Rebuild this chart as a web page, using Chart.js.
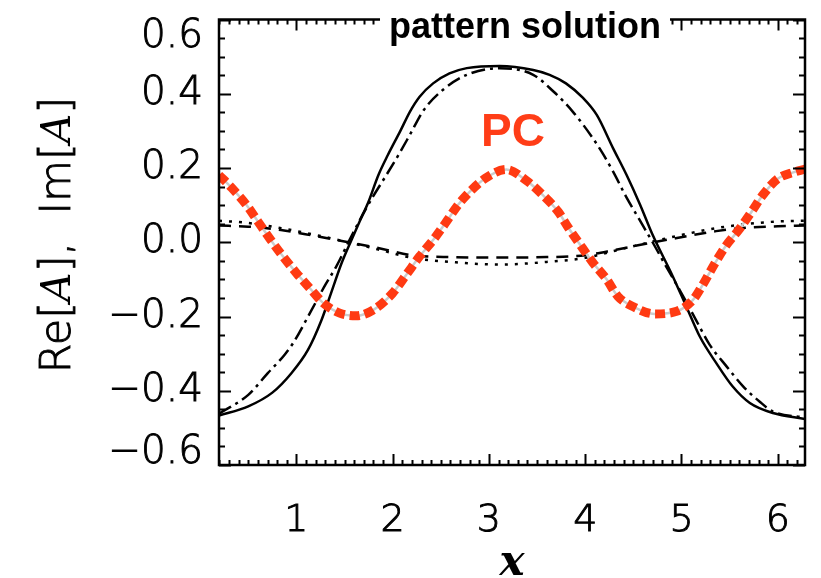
<!DOCTYPE html>
<html><head><meta charset="utf-8">
<script src="https://cdn.jsdelivr.net/npm/chart.js@4.4.1/dist/chart.umd.min.js"></script>
<style>html,body{margin:0;padding:0;background:#fff;overflow:hidden}#wrap{width:821px;height:578px}</style>
</head><body><div id="wrap"><canvas id="c" width="821" height="578"></canvas></div>
<script>
// ---- data ----
const xMin = 0.196, xMax = 6.283;
const yMin = -0.6, yMax = 0.6;
const xTickValues = [1, 2, 3, 4, 5, 6];
const yTickValues = [-0.6, -0.4, -0.2, 0.0, 0.2, 0.4, 0.6];
const titleText = 'pattern solution';
const pcLabel = 'PC';
const xTitle = 'x';

const reSolidX = [0.196,0.5,0.75,0.95,1.12,1.26,1.36,1.47,1.57,1.66,1.75,1.85,1.95,2.08,2.18,2.28,2.42,2.59,2.77,3.11,3.46,3.63,3.80,3.98,4.12,4.29,4.43,4.57,4.70,4.91,5.05,5.19,5.36,5.53,5.71,5.95,6.283];
const reSolidY = [-0.467,-0.442,-0.405,-0.352,-0.29,-0.21,-0.137,-0.056,0.005,0.058,0.11,0.18,0.235,0.30,0.352,0.392,0.428,0.455,0.469,0.475,0.464,0.451,0.428,0.388,0.343,0.253,0.181,0.101,0.02,-0.092,-0.173,-0.254,-0.325,-0.388,-0.433,-0.460,-0.476];

const reDashDotX = [0.196,0.5,0.705,0.878,0.97,1.14,1.30,1.415,1.55,1.69,1.80,1.92,2.06,2.18,2.32,2.52,2.77,3.11,3.46,3.67,3.87,4.08,4.18,4.29,4.43,4.565,4.70,4.84,4.98,5.15,5.29,5.47,5.64,5.81,5.95,6.283];
const reDashDotY = [-0.462,-0.411,-0.352,-0.303,-0.27,-0.191,-0.115,-0.065,0.005,0.075,0.125,0.175,0.235,0.29,0.355,0.41,0.451,0.469,0.451,0.406,0.352,0.28,0.24,0.19,0.12,0.06,0.0,-0.065,-0.128,-0.209,-0.275,-0.335,-0.388,-0.429,-0.456,-0.472];

const imX = [0.196,0.5,0.84,1.19,1.54,1.86,2.2,2.6,3.11,3.6,4.0,4.32,4.67,5.01,5.36,5.71,6.0,6.283];
const imDashY = [0.045,0.042,0.033,0.017,0.0,-0.016,-0.035,-0.040,-0.041,-0.040,-0.035,-0.02,-0.002,0.014,0.030,0.040,0.043,0.045];
const imDotY  = [0.058,0.052,0.038,0.02,0.0,-0.02,-0.042,-0.053,-0.06,-0.053,-0.042,-0.022,0.0,0.02,0.038,0.05,0.056,0.058];

const pcX = [0.196,0.33,0.48,0.60,0.72,0.86,1.00,1.14,1.28,1.45,1.62,1.80,2.00,2.14,2.28,2.42,2.56,2.68,2.82,2.99,3.18,3.39,3.54,3.72,3.82,3.94,4.08,4.22,4.34,4.51,4.72,4.95,5.12,5.22,5.34,5.46,5.60,5.73,5.85,6.00,6.17,6.283];
const pcY = [0.181,0.146,0.101,0.056,0.011,-0.038,-0.083,-0.124,-0.164,-0.191,-0.198,-0.182,-0.137,-0.088,-0.038,0.006,0.056,0.101,0.141,0.177,0.196,0.166,0.132,0.082,0.041,-0.004,-0.055,-0.099,-0.146,-0.175,-0.193,-0.186,-0.155,-0.115,-0.06,-0.010,0.035,0.083,0.129,0.171,0.189,0.197];

// ---- helpers ----
const zip = (xs, ys) => xs.map((x, i) => ({x: x, y: ys[i]}));
const fmtY = v => (v < -1e-9 ? '\u2212' : '') + Math.abs(v).toFixed(1);
const LABEL_FONT = '"DejaVu Sans", "Liberation Sans", sans-serif';

const framePlugin = {
  id: 'frame',
  afterDraw(chart) {
    const ctx = chart.ctx, a = chart.chartArea;
    const xs = chart.scales.x, ys = chart.scales.y;
    ctx.save();
    ctx.strokeStyle = '#000';
    ctx.lineWidth = 2;
    ctx.beginPath();
    for (let k = Math.ceil(xMin * 10); k <= Math.floor(xMax * 10); k++) {
      const v = k / 10;
      const major = (k % 10 === 0);
      const len = major ? 11 : 5;
      const px = Math.round(xs.getPixelForValue(v)) + 0.5;
      ctx.moveTo(px, a.bottom); ctx.lineTo(px, a.bottom - len);
      ctx.moveTo(px, a.top); ctx.lineTo(px, a.top + len);
    }
    for (let k = -12; k <= 12; k++) {
      const v = k / 20;
      const major = (k % 4 === 0);
      const len = major ? 12 : 6;
      const py = Math.round(ys.getPixelForValue(v)) + 0.5;
      ctx.moveTo(a.left, py); ctx.lineTo(a.left + len, py);
      ctx.moveTo(a.right, py); ctx.lineTo(a.right - len, py);
    }
    ctx.stroke();
    ctx.lineWidth = 2.5;
    ctx.strokeRect(a.left, a.top, a.right - a.left, a.bottom - a.top);

    // title with white background over the top frame
    ctx.font = 'bold 36px "Liberation Sans", Arial, sans-serif';
    const tw = ctx.measureText(titleText).width;
    const cx = 525;
    ctx.fillStyle = '#fff';
    ctx.fillRect(cx - tw / 2 - 9, 0, tw + 18, 40);
    ctx.fillStyle = '#000';
    ctx.textAlign = 'center';
    ctx.textBaseline = 'alphabetic';
    ctx.fillText(titleText, cx, 38);

    // PC label
    ctx.font = 'bold 46px "Liberation Sans", Arial, sans-serif';
    ctx.fillStyle = '#ff3d17';
    ctx.fillText(pcLabel, 513, 146);

    // x axis title
    ctx.font = 'italic bold 42px "DejaVu Serif", "Liberation Serif", serif';
    ctx.fillStyle = '#000';
    ctx.fillText(xTitle, 512, 575);

    // y axis title  Re[A], Im[A]
    const parts = [
      ['Re[', false], ['A', true], ['],  Im[', false], ['A', true], [']', false]
    ];
    const nf = '300 43px ' + LABEL_FONT;
    const itf = 'italic 41px "DejaVu Serif", "Liberation Serif", serif';
    let total = 0;
    parts.forEach(p => { ctx.font = p[1] ? itf : nf; total += ctx.measureText(p[0]).width; });
    ctx.translate(59, 235);
    ctx.rotate(-Math.PI / 2);
    ctx.textAlign = 'left';
    ctx.textBaseline = 'middle';
    ctx.lineWidth = 0.9;
    ctx.strokeStyle = '#000';
    let x0 = -total / 2;
    parts.forEach(p => {
      ctx.font = p[1] ? itf : nf;
      ctx.fillText(p[0], x0, 0);
      if (!p[1]) ctx.strokeText(p[0], x0, 0);
      x0 += ctx.measureText(p[0]).width;
    });
    ctx.restore();
  }
};

const common = {pointRadius: 0, fill: false, cubicInterpolationMode: 'monotone', borderCapStyle: 'butt'};
const zeroPad = s => { s.paddingTop = 0; s.paddingBottom = 0; s.paddingLeft = 0; s.paddingRight = 0; };

new Chart(document.getElementById('c'), {
  type: 'line',
  data: {
    datasets: [
      Object.assign({label: 'Re solid', data: zip(reSolidX, reSolidY), borderColor: '#000', borderWidth: 2.5, order: 3}, common),
      Object.assign({label: 'Re dash-dot', data: zip(reDashDotX, reDashDotY), borderColor: '#000', borderWidth: 2.5, borderDash: [14, 5, 3, 5], order: 3}, common),
      Object.assign({label: 'Im dashed', data: zip(imX, imDashY), borderColor: '#000', borderWidth: 2.5, borderDash: [12, 8], order: 3}, common),
      Object.assign({label: 'Im dotted', data: zip(imX, imDotY), borderColor: '#000', borderWidth: 2.5, borderDash: [3, 7], order: 3}, common),
      Object.assign({label: 'PC line', data: zip(pcX, pcY), borderColor: '#cccccc', borderWidth: 2.5, order: 2}, common),
      Object.assign({label: 'PC', data: zip(pcX, pcY), borderColor: '#ff3a12', borderWidth: 9, borderDash: [10, 5], order: 1}, common)
    ]
  },
  options: {
    responsive: false,
    animation: false,
    devicePixelRatio: 1,
    layout: {padding: {left: 0, top: 19.5, right: 16, bottom: 0}},
    plugins: {legend: {display: false}, tooltip: {enabled: false}, title: {display: false}},
    scales: {
      x: {
        type: 'linear', min: xMin, max: xMax,
        grid: {display: false}, border: {display: false},
        afterBuildTicks: s => { s.ticks = xTickValues.map(v => ({value: v})); },
        afterFit: s => { s.height = 578 - 465; zeroPad(s); },
        ticks: {color: '#000', padding: 25, maxRotation: 0, autoSkip: false,
          textStrokeColor: '#000', textStrokeWidth: 0.9,
          font: {family: LABEL_FONT, size: 38, weight: 300},
          callback: v => String(v)}
      },
      y: {
        type: 'linear', min: yMin, max: yMax,
        grid: {display: false}, border: {display: false},
        afterBuildTicks: s => { s.ticks = yTickValues.map(v => ({value: v})); },
        afterFit: s => { s.width = 219; zeroPad(s); },
        ticks: {color: '#000', padding: 8, autoSkip: false,
          textStrokeColor: '#000', textStrokeWidth: 0.9,
          font: c => ({family: LABEL_FONT, size: 39, weight: 300,
            lineHeight: c.index === 0 ? '24px' : (c.index === yTickValues.length - 1 ? '34px' : 1.2)}),
          callback: (v, i) => i === 0 ? [fmtY(v), ''] : (i === yTickValues.length - 1 ? ['', fmtY(v)] : fmtY(v))}
      }
    }
  },
  plugins: [framePlugin]
});
</script></body></html>
